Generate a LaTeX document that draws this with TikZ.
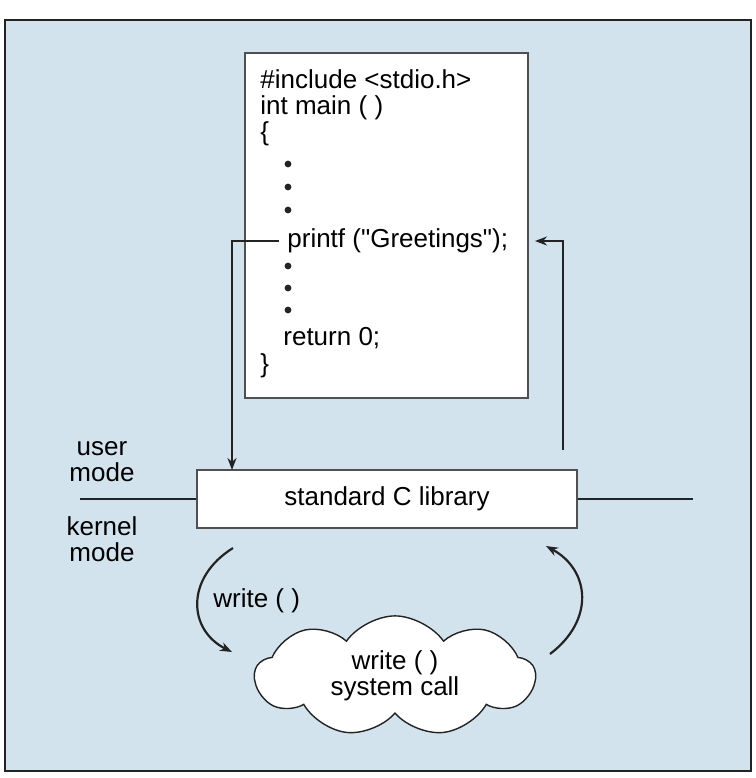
\documentclass[tikz,border=0pt]{standalone}
\usepackage{fontspec}
\setmainfont{Liberation Sans}
\newfontfamily\codefont{Liberation Sans}
\usetikzlibrary{shapes.symbols, positioning, arrows.meta}
\definecolor{panelblue}{RGB}{211,227,238}
\definecolor{edgegray}{RGB}{80,80,80}
\definecolor{inkgray}{RGB}{35,35,35}

\tikzset{
  codeline/.style={anchor=west, inner sep=0pt, text height=9pt, text depth=3pt, font=\codefont\fontsize{13}{13}\selectfont},
  codedot/.style={circle, fill=inkgray, inner sep=0pt, minimum size=3.4pt},
  libbox/.style={draw=edgegray, line width=0.8pt, fill=white, minimum width=190pt, minimum height=29pt},
  codebox/.style={draw=edgegray, line width=0.8pt, fill=white, minimum width=141.5pt, minimum height=172.5pt},
  callcloud/.style={cloud, cloud puffs=9, cloud puff arc=110, cloud ignores aspect, draw=inkgray, line width=0.7pt, fill=white,
                    minimum width=140pt, minimum height=52pt, align=center},
  modelabel/.style={align=center, inner sep=0pt},
  flow/.style={draw=inkgray, line width=1.1pt}
}

\begin{document}
\begin{tikzpicture}[>={Stealth[length=6pt,width=4.5pt]}, x=0.5pt, y=-0.5pt, font=\fontsize{13}{13}\selectfont]
  % page and panel
  \useasboundingbox (0,0) rectangle (756,778);
  \filldraw[fill=panelblue, draw=inkgray, line width=0.9pt] (5,20) rectangle (751,771);

  % program text in its box
  \node[codebox] (prog) at (386.5,225.5) {};
  \node[codeline] (inc) at (260,82) {\#include <stdio.h>};
  \node[codeline] (mainfn) at (260,108) {int main ( )};
  \node[codeline] (open) at (260,134) {\{};
  \node[codedot] (d1) at (288,164) {};
  \node[codedot] (d2) at (288,187) {};
  \node[codedot] (d3) at (288,210) {};
  \node[codeline, inner xsep=4pt] (printf) at (279,241) {printf ("Greetings");};
  \node[codedot] (d4) at (288,266) {};
  \node[codedot] (d5) at (288,288) {};
  \node[codedot] (d6) at (288,310) {};
  \node[codeline] (ret) at (283,339) {return 0;};
  \node[codeline] (close) at (260,366) {\}};

  % library and the mode line
  \node[libbox] (lib) at (387,499) {standard C library};
  \coordinate (lineL) at (80,499);
  \coordinate (lineR) at (693,499);
  \draw[inkgray, line width=1.4pt] (lineL) -- (lib.west);
  \draw[inkgray, line width=1.4pt] (lib.east) -- (lineR);
  \node[modelabel] (user) at (102,462) {user\\mode};
  \node[modelabel] (kernel) at (102,539) {kernel\\mode};

  % kernel side
  \node[callcloud] (sys) at (395,676) {write ( )\\system call};

  % connectors
  \coordinate (libin) at (232,470);
  \coordinate (libout) at (563,450);
  \coordinate (retin) at (535,241);
  \draw[flow, ->] (printf.west) -| (libin);
  \draw[flow, ->] (libout) |- (retin);

  \coordinate (callS) at (233,548);
  \coordinate (callE) at (232,652);
  \coordinate (backS) at (550,654);
  \coordinate (backE) at (546,546);
  \draw[flow, ->] (callS) .. controls (185,578) and (188,630) .. (callE);
  \draw[flow, ->] (backS) .. controls (595,620) and (590,570) .. (backE);
  \node[anchor=west, inner sep=0pt] (wlabel) at (213,601) {write ( )};
\end{tikzpicture}
\end{document}
